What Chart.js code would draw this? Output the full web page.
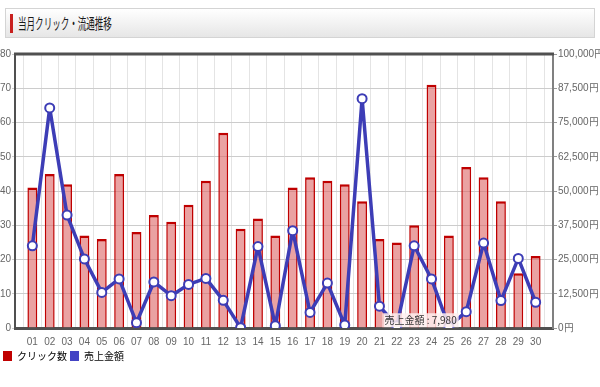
<!DOCTYPE html>
<html>
<head>
<meta charset="utf-8">
<script src="https://cdn.jsdelivr.net/npm/chart.js@4"></script>
<style>
  body { margin: 0; background: #fff; width: 600px; height: 387px; overflow: hidden; position: relative; font-family: 'Noto Sans CJK JP', sans-serif; }
  #head { position: absolute; left: 5px; top: 8px; width: 588px; height: 28px; border: 1px solid #d4d4d4; background: linear-gradient(#ffffff, #e6e6e6); }
  #head .bar { position: absolute; left: 4px; top: 5px; width: 3px; height: 19px; background: #c8201e; }
  #head .txt { position: absolute; left: 12px; top: 3px; font-size: 15px; color: #1a1a1a; transform: scaleX(0.57); transform-origin: left center; white-space: nowrap; }
  #wrap { position: absolute; left: 0; top: 40px; width: 600px; height: 331px; }
</style>
</head>
<body>
<div id="head"><div class="bar"></div><div class="txt">当月クリック・流通推移</div></div>
<div id="wrap"><canvas id="chart"></canvas></div>
<script>
const days = ['01','02','03','04','05','06','07','08','09','10','11','12','13','14','15','16','17','18','19','20','21','22','23','24','25','26','27','28','29','30'];
const clicks = [41, 45, 42, 27, 26, 45, 28, 33, 31, 36, 43, 57, 29, 32, 27, 41, 44, 43, 42, 37, 26, 25, 30, 71, 27, 47, 44, 37, 16, 21];
const sales = [30000, 80300, 41200, 25200, 13000, 17900, 1950, 16800, 11800, 15900, 18100, 10100, 100, 29700, 850, 35500, 5700, 16400, 1100, 83700, 7980, 800, 30000, 17900, 500, 5950, 31000, 10000, 25400, 9400];
const clickTicks = [0, 10, 20, 30, 40, 50, 60, 70, 80];
const salesTicks = [0, 12500, 25000, 37500, 50000, 62500, 75000, 87500, 100000];

const tickFont = { family: "'Liberation Sans Narrow', 'Liberation Sans', sans-serif", size: 10 };

// blank slot at both ends so the first/last day sit one step in from the axes
const labels = [''].concat(days, ['']);
const clickData = [null].concat(clicks, [null]);
const salesData = [null].concat(sales, [null]);

Chart.Tooltip.positioners.belowRight = function(items) {
  if (!items.length) return false;
  const el = items[0].element;
  return { x: el.x + 3, y: el.y + 7 };
};

const frame = {
  id: 'frame',
  afterDraw(chart) {
    const a = chart.chartArea, ctx = chart.ctx;
    ctx.save();
    ctx.strokeStyle = '#505050';
    ctx.lineWidth = 3;
    ctx.beginPath();
    ctx.moveTo(a.left - 1, a.top);
    ctx.lineTo(a.right + 1, a.top);
    ctx.stroke();
    ctx.restore();
  }
};

const chart = new Chart(document.getElementById('chart'), {
  data: {
    labels: labels,
    datasets: [
      {
        type: 'line',
        label: '売上金額',
        data: salesData,
        yAxisID: 'y1',
        borderColor: '#3d3db6',
        borderWidth: 3.5,
        borderJoinStyle: 'round',
        tension: 0,
        pointRadius: 4.5,
        pointBackgroundColor: '#ffffff',
        pointBorderColor: '#3d3db6',
        pointBorderWidth: 2,
        order: 0
      },
      {
        type: 'bar',
        label: 'クリック数',
        data: clickData,
        yAxisID: 'y',
        backgroundColor: 'rgba(220,100,100,0.6)',
        borderColor: '#bf0000',
        borderWidth: { top: 2.5, left: 1.5, right: 1.5, bottom: 0 },
        borderSkipped: false,
        barPercentage: 0.57,
        categoryPercentage: 1,
        order: 1
      }
    ]
  },
  options: {
    responsive: true,
    maintainAspectRatio: false,
    animation: false,
    events: [],
    layout: { padding: { top: 14, left: 0, right: 0, bottom: 0 } },
    scales: {
      x: {
        offset: false,
        grid: { color: '#e4e4e4', drawTicks: false },
        border: { color: '#505050', width: 3 },
        ticks: { color: '#666', font: tickFont, padding: 8, autoSkip: false, maxRotation: 0 },
        afterFit: s => { s.height = 20; }
      },
      y: {
        position: 'left',
        min: 0, max: 80,
        afterBuildTicks: s => { s.ticks = clickTicks.map(v => ({ value: v })); },
        grid: { color: '#cccccc', tickLength: 3 },
        border: { color: '#505050', width: 2 },
        ticks: { color: '#666', font: tickFont, padding: 1 },
        afterFit: s => { s.width = 15; }
      },
      y1: {
        position: 'right',
        min: 0, max: 100000,
        afterBuildTicks: s => { s.ticks = salesTicks.map(v => ({ value: v })); },
        grid: { drawOnChartArea: false, tickLength: 4, color: '#999' },
        border: { color: '#808080', width: 2 },
        ticks: {
          color: '#666', font: tickFont, padding: 1,
          callback: v => v.toLocaleString('en-US') + '円'
        },
        afterFit: s => { s.width = 47; }
      }
    },
    plugins: {
      legend: {
        position: 'bottom',
        align: 'start',
        reverse: true,
        labels: {
          boxWidth: 9, boxHeight: 10, padding: 3, color: '#333',
          font: { family: "'Noto Sans CJK JP', sans-serif", size: 10 },
          generateLabels: chart => chart.data.datasets.map((d, i) => ({
            text: d.label,
            fillStyle: i === 1 ? '#c00000' : '#4444c4',
            strokeStyle: i === 1 ? '#c00000' : '#4444c4',
            lineWidth: 0,
            datasetIndex: i
          }))
        }
      },
      tooltip: {
        position: 'belowRight',
        xAlign: 'left', yAlign: 'top',
        caretSize: 0, caretPadding: 0,
        cornerRadius: 0,
        displayColors: false,
        backgroundColor: 'rgba(255,238,238,0.85)',
        bodyColor: '#333',
        bodyFont: { family: "'Noto Sans CJK JP', sans-serif", size: 10 },
        padding: { top: 1, bottom: 1, left: 2, right: 2 },
        callbacks: {
          title: () => '',
          label: c => c.dataset.label + ' : ' + c.raw.toLocaleString('en-US')
        }
      }
    }
  },
  plugins: [frame]
});

chart.tooltip.setActiveElements([{ datasetIndex: 0, index: 21 }], { x: 0, y: 0 });
chart.update();
</script>
</body>
</html>
